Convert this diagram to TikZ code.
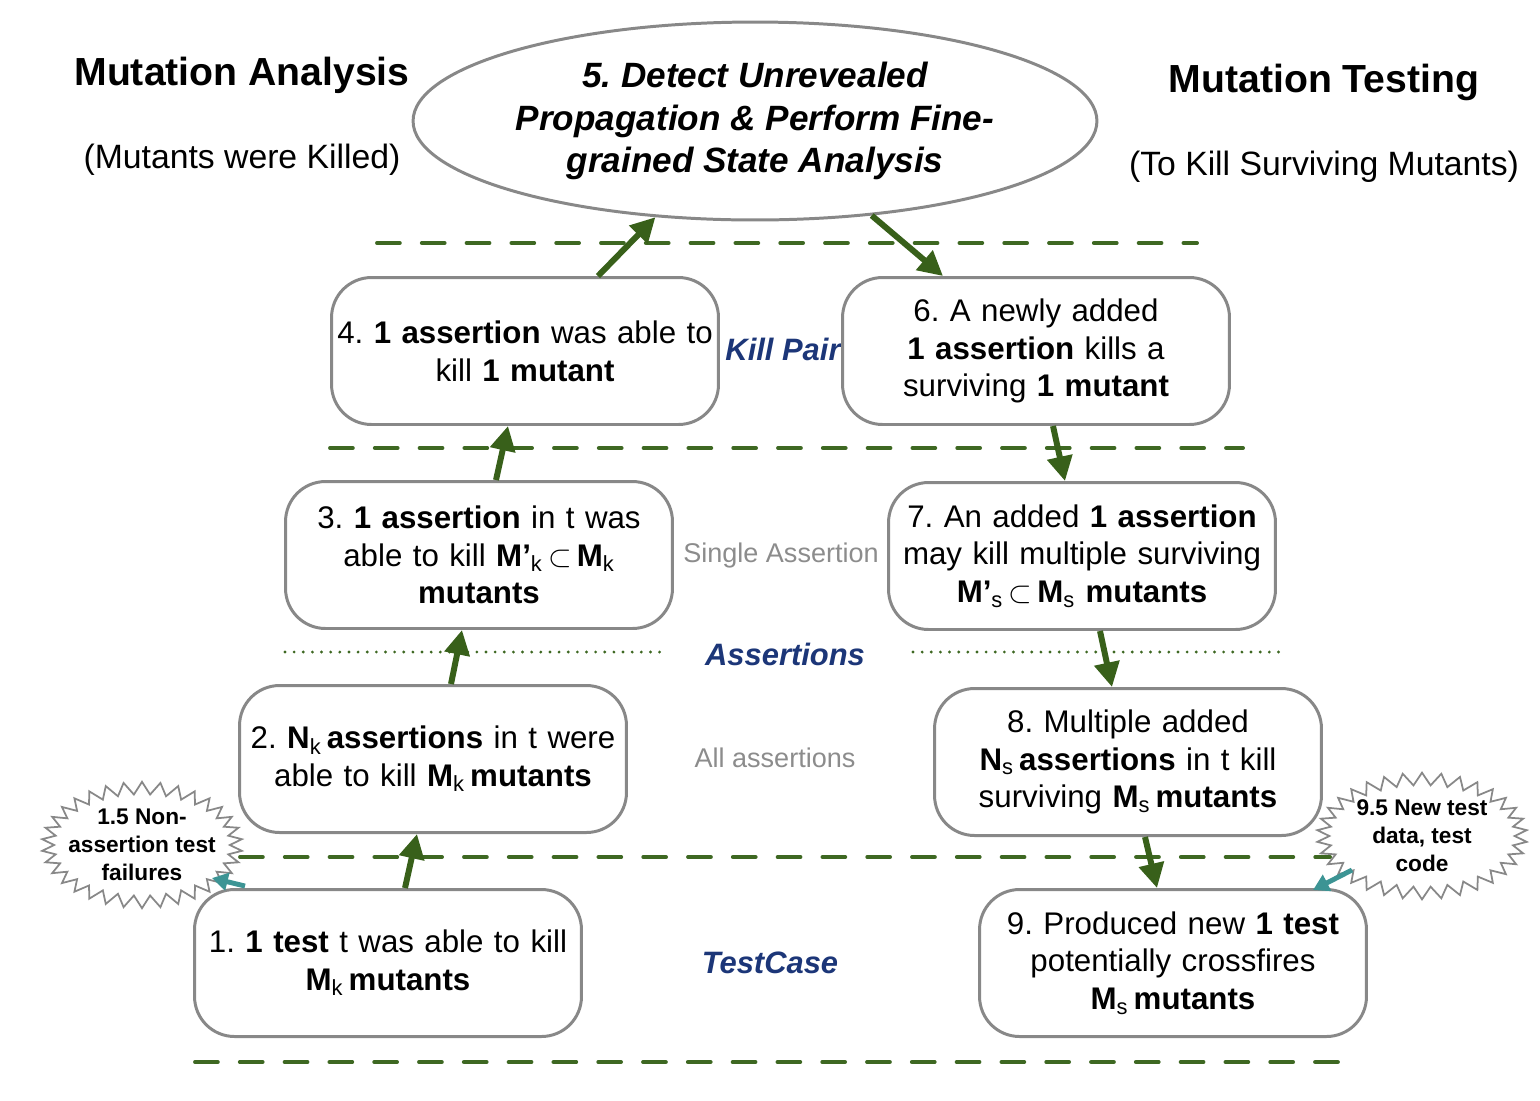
\documentclass[tikz,border=0pt]{standalone}
\usepackage{fontspec}
\setmainfont{Liberation Sans}
\usetikzlibrary{shapes.geometric,shapes.symbols,arrows.meta}
\definecolor{flowgreen}{RGB}{56,96,26}
\definecolor{sepgreen}{RGB}{62,104,34}
\definecolor{layerblue}{RGB}{28,54,120}
\definecolor{edgegray}{RGB}{136,136,136}
\definecolor{hintgray}{RGB}{140,140,140}
\definecolor{tealarrow}{RGB}{60,148,148}
\newcommand{\lowidx}[1]{\textsubscript{\mdseries #1}}
\frenchspacing
\hyphenpenalty=10000
\tikzset{
  killbox/.style={draw=edgegray, line width=1.7pt, fill=white, rounded corners=0.8cm,
    minimum width=7.74cm, minimum height=2.94cm, text width=7.7cm, align=center,
    inner xsep=0.02cm, font=\fontsize{17.8}{21.5}\selectfont},
  burst/.style={starburst, starburst points=34, starburst point height=0.25cm,
    random starburst=0, draw=edgegray, line width=1pt, fill=white, align=center,
    inner xsep=-6.6pt, inner ysep=0pt,
    font=\bfseries\fontsize{12.9}{15.9}\selectfont},
  sepline/.style={sepgreen, line width=2.2pt, line cap=round, dash pattern=on 13pt off 12.5pt},
  dotline/.style={sepgreen, line width=1.8pt, line cap=round, dash pattern=on 0pt off 5.2pt},
  flow/.style={flowgreen, line width=3.4pt, -{Triangle[length=14pt,width=14pt]}},
  hint/.style={tealarrow, line width=2.8pt, -{Triangle[length=9pt,width=10pt]}},
  layer/.style={layerblue, font=\bfseries\itshape\fontsize{17.6}{20}\selectfont},
  side/.style={hintgray, font=\fontsize{15.4}{18}\selectfont}
}
\begin{document}
\begin{tikzpicture}[x=0.02cm,y=-0.02cm]
\useasboundingbox (0,0) rectangle (1540,1100);
% separators
\draw[sepline] (377,243) -- (1197,243);
\draw[sepline] (330,448) -- (1243,448);
\draw[sepline] (240,857) -- (1330,857);
\draw[sepline] (195,1062) -- (1357,1062);
\draw[dotline] (285,652) -- (660,652);
\draw[dotline] (913,652) -- (1287,652);
% headings
\node[font=\bfseries\fontsize{22.3}{26}\selectfont] (ma) at (242,75) {Mutation Analysis};
\node[font=\fontsize{19.2}{22}\selectfont] (mak) at (242,160) {(Mutants were Killed)};
\node[font=\bfseries\fontsize{22.3}{26}\selectfont] (mt) at (1324,82) {Mutation Testing};
\node[font=\fontsize{19.2}{22}\selectfont] (mts) at (1324,167) {(To Kill Surviving Mutants)};
% layers
\node[layer] (kp) at (783,349) {Kill Pair};
\node[side] (sa) at (781,555) {Single Assertion};
\node[layer] (as) at (785,654) {Assertions};
\node[side] (aa) at (775,758) {All assertions};
\node[layer] (tc) at (770,963) {TestCase};
% center ellipse
\node[ellipse, draw=edgegray, line width=1.7pt, fill=white, minimum width=13.68cm,
  minimum height=3.96cm, inner sep=0pt, align=center,
  font=\bfseries\itshape\fontsize{20}{24.4}\selectfont] (5) at (755,121)
  {5. Detect Unrevealed\\Propagation \& Perform Fine-\\grained State Analysis};
\begin{scope}[every node/.style={killbox}]
  \node (4) at (525,351) {4. \textbf{1 assertion} was able to\\kill \textbf{1 mutant}};
  \node (6) at (1036,351) {6. A newly added\\\textbf{1 assertion} kills a\\surviving \textbf{1 mutant}};
  \node (3) at (479,555) {3. \textbf{1 assertion} in t was\\able to kill \textbf{M’}\lowidx{k}\,$\subset$\,\textbf{M}\lowidx{k}\\\textbf{mutants}};
  \node (7) at (1082,556) {7. An added \textbf{1 assertion}\\may kill multiple surviving\\\textbf{M’}\lowidx{s}\,$\subset$\,\textbf{M}\lowidx{s} \textbf{mutants}};
  \node (2) at (433,759) {2. \textbf{N}\lowidx{k}\,\textbf{assertions} in t were\\able to kill \textbf{M}\lowidx{k}\,\textbf{mutants}};
  \node (8) at (1128,762) {8. Multiple added\\\textbf{N}\lowidx{s}\,\textbf{assertions} in t kill\\surviving \textbf{M}\lowidx{s}\,\textbf{mutants}};
  \node (1) at (388,963) {1. \textbf{1 test} t was able to kill\\\textbf{M}\lowidx{k}\,\textbf{mutants}};
  \node (9) at (1173,963) {9. Produced new \textbf{1 test}\\potentially crossfires\\\textbf{M}\lowidx{s}\,\textbf{mutants}};
\end{scope}
\node[burst] (1b) at (142,845) {1.5 Non-\\assertion test\\failures};
\node[burst, inner xsep=0pt] (9b) at (1422,836) {9.5 New test\\data, test\\code};
% flow
\draw[flow] ([xshift=1.46cm]4.north) -- (5.-136);
\draw[flow] (5.-39) -- ([xshift=-1.86cm]6.north);
\draw[flow] ([xshift=0.34cm]6.south) -- ([xshift=-0.34cm]7.north);
\draw[flow] ([xshift=0.36cm]7.south) -- ([xshift=-0.32cm]8.north);
\draw[flow] ([xshift=0.34cm]8.south) -- ([xshift=-0.32cm]9.north);
\draw[flow] ([xshift=0.34cm]1.north) -- ([xshift=-0.32cm]2.south);
\draw[flow] ([xshift=0.36cm]2.north) -- ([xshift=-0.34cm]3.south);
\draw[flow] ([xshift=0.34cm]3.north) -- ([xshift=-0.34cm]4.south);
\draw[hint] ([shift={(-143,-2)}]1.north) -- ([shift={(70,33)}]1b.center);
\draw[hint] ([shift={(-70,34)}]9b.center) -- ([shift={(140,-73)}]9.center);
\end{tikzpicture}
\end{document}
